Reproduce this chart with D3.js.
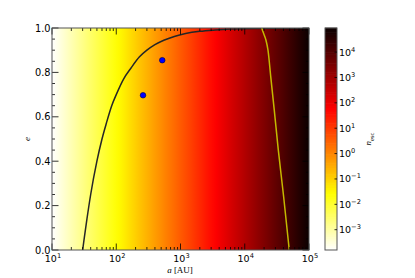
<!DOCTYPE html>
<html>
<head>
<meta charset="utf-8">
<script src="https://cdn.jsdelivr.net/npm/d3@7"></script>
<style>
  body { margin: 0; background: #fff; }
  text { font-family: "DejaVu Sans", sans-serif; }
  .serif { font-family: "Liberation Serif", "DejaVu Serif", serif; }
</style>
</head>
<body>
<div id="chart"></div>
<script>
// axis ranges
var aDomain = [10, 1e5];
var eDomain = [0, 1];
var xTicks = [1e1, 1e2, 1e3, 1e4, 1e5];
var yTicks = [0, 0.2, 0.4, 0.6, 0.8, 1.0];
// colour scale (log10 of n_esc)
var nLogDomain = [-3.8, 4.95];
var cbarTickExp = [-3, -2, -1, 0, 1, 2, 3, 4];
// black curve: constant pericentre
var periCurve = [[30,0],[32,0.06],[35,0.14],[40,0.25],[50,0.40],[60,0.50],[70,0.57],[85,0.65],
  [100,0.70],[130,0.77],[170,0.82],[230,0.87],[300,0.90],[400,0.925],[550,0.945],[800,0.962],
  [1200,0.975],[2000,0.985],[3500,0.991],[6000,0.995],[1e4,0.997],[3e4,0.999],[1e5,1.0]];
// yellow curve
var limitCurve = [[18400,1.0],[19100,0.985],[20300,0.965],[21400,0.945],[23000,0.90],
  [25400,0.78],[28800,0.63],[33300,0.45],[40300,0.24],[49300,0.0]];
// blue points
var pointsA = [520, 261];
var pointsE = [0.855, 0.697];

var W = 415, H = 278;
var m = {left: 52, right: 309, top: 28, bottom: 250};

var svg = d3.select("#chart").append("svg").attr("width", W).attr("height", H);

var x = d3.scaleLog().domain(aDomain).range([m.left, m.right]);
var y = d3.scaleLinear().domain(eDomain).range([m.bottom, m.top]);

// hot_r colormap
function hotR(t) {
  var s = 1 - t;
  var r = Math.min(1, 0.0416 + s * (1 - 0.0416) / 0.365079);
  var g = Math.max(0, Math.min(1, (s - 0.365079) / (0.746032 - 0.365079)));
  var b = Math.max(0, Math.min(1, (s - 0.746032) / (1 - 0.746032)));
  return d3.rgb(r * 255, g * 255, b * 255).toString();
}

var defs = svg.append("defs");
var grad = defs.append("linearGradient").attr("id", "bg").attr("x1", 0).attr("x2", 1).attr("y1", 0).attr("y2", 0);
d3.range(0, 1.0001, 0.02).forEach(function(t) {
  grad.append("stop").attr("offset", t).attr("stop-color", hotR(t));
});
defs.append("clipPath").attr("id", "clip").append("rect")
  .attr("x", m.left).attr("y", m.top).attr("width", m.right - m.left).attr("height", m.bottom - m.top);

svg.append("rect").attr("x", m.left).attr("y", m.top)
  .attr("width", m.right - m.left).attr("height", m.bottom - m.top)
  .attr("fill", "url(#bg)");

var line = d3.line().x(function(d) { return x(d[0]); }).y(function(d) { return y(d[1]); })
  .curve(d3.curveMonotoneX);

var plot = svg.append("g").attr("clip-path", "url(#clip)");
plot.append("path").datum(periCurve).attr("d", line)
  .attr("fill", "none").attr("stroke", "#262626").attr("stroke-width", 1.5);
plot.append("path").datum(limitCurve).attr("d", line)
  .attr("fill", "none").attr("stroke", "#c4b800").attr("stroke-width", 1.5);

plot.selectAll("circle").data(pointsA).enter().append("circle")
  .attr("cx", function(d) { return x(d); })
  .attr("cy", function(d, i) { return y(pointsE[i]); })
  .attr("r", 2.8).attr("fill", "#0000ff").attr("stroke", "#000040").attr("stroke-width", 0.6);

// ticks
var ticks = svg.append("g").attr("stroke", "#000").attr("stroke-width", 0.8);
var minorX = [];
[1e1, 1e2, 1e3, 1e4].forEach(function(d) {
  for (var k = 2; k <= 9; k++) minorX.push(d * k);
});
xTicks.forEach(function(d) {
  ticks.append("line").attr("x1", x(d)).attr("x2", x(d)).attr("y1", m.bottom).attr("y2", m.bottom - 6.5);
  ticks.append("line").attr("x1", x(d)).attr("x2", x(d)).attr("y1", m.top).attr("y2", m.top + 6.5);
});
minorX.forEach(function(d) {
  ticks.append("line").attr("x1", x(d)).attr("x2", x(d)).attr("y1", m.bottom).attr("y2", m.bottom - 3);
  ticks.append("line").attr("x1", x(d)).attr("x2", x(d)).attr("y1", m.top).attr("y2", m.top + 3);
});
d3.range(0, 1.0001, 0.05).forEach(function(d, i) {
  var len = (i % 4 === 0) ? 6.5 : 3;
  ticks.append("line").attr("x1", m.left).attr("x2", m.left + len).attr("y1", y(d)).attr("y2", y(d));
  ticks.append("line").attr("x1", m.right).attr("x2", m.right - len).attr("y1", y(d)).attr("y2", y(d));
});

// frame
svg.append("rect").attr("x", m.left).attr("y", m.top)
  .attr("width", m.right - m.left).attr("height", m.bottom - m.top)
  .attr("fill", "none").attr("stroke", "#555").attr("stroke-width", 1);

// tick labels
var fs = 9.5;
yTicks.forEach(function(d) {
  svg.append("text").attr("x", m.left - 1.5).attr("y", y(d) + 3.5)
    .attr("text-anchor", "end").attr("font-size", 9.8).text(d.toFixed(1));
});
function powLabel(sel, exp) {
  sel.append("tspan").text("10");
  sel.append("tspan").attr("dy", -4).attr("font-size", fs * 0.7).text(exp < 0 ? "\u2212" + (-exp) : exp);
}
xTicks.forEach(function(d) {
  var t = svg.append("text").attr("x", x(d) + 1).attr("y", 261.5).attr("text-anchor", "middle").attr("font-size", fs);
  powLabel(t, Math.round(Math.log10(d)));
});

// axis labels
var xl = svg.append("text").attr("class", "serif").attr("x", 180).attr("y", 273)
  .attr("text-anchor", "middle").attr("font-size", 9);
xl.append("tspan").attr("font-style", "italic").text("a");
xl.append("tspan").text(" [AU]");
svg.append("text").attr("class", "serif").attr("font-style", "italic").attr("font-size", 9)
  .attr("text-anchor", "middle").attr("transform", "translate(30,139) rotate(-90)").text("e");

// colorbar
var cb = {x0: 325, x1: 337};
var cy = d3.scaleLinear().domain(nLogDomain).range([m.bottom, m.top]);
var nBands = 100;
var bandStep = (nLogDomain[1] - nLogDomain[0]) / nBands;
svg.append("g").selectAll("rect").data(d3.range(nBands)).enter().append("rect")
  .attr("x", cb.x0).attr("width", cb.x1 - cb.x0)
  .attr("y", function(i) { return cy(nLogDomain[0] + (i + 1) * bandStep) - 0.3; })
  .attr("height", function(i) { return cy(nLogDomain[0]) - cy(nLogDomain[0] + bandStep) + 0.6; })
  .attr("fill", function(i) { return hotR((i + 0.5) / nBands); });
svg.append("rect").attr("x", cb.x0).attr("y", m.top).attr("width", cb.x1 - cb.x0).attr("height", m.bottom - m.top)
  .attr("fill", "none").attr("stroke", "#555").attr("stroke-width", 1);
cbarTickExp.forEach(function(e) {
  svg.append("line").attr("x1", cb.x1).attr("x2", cb.x1 - 2.5).attr("y1", cy(e)).attr("y2", cy(e))
    .attr("stroke", "#000").attr("stroke-width", 0.8);
  var t = svg.append("text").attr("x", cb.x1 + 2).attr("y", cy(e) + 3.5).attr("font-size", fs);
  powLabel(t, e);
});
var cl = svg.append("text").attr("class", "serif").attr("font-size", 9).attr("text-anchor", "middle")
  .attr("transform", "translate(371,139) rotate(-90)");
cl.append("tspan").attr("font-style", "italic").text("n");
cl.append("tspan").attr("dy", 2.5).attr("font-size", 6.5).text("esc");
</script>
</body>
</html>
